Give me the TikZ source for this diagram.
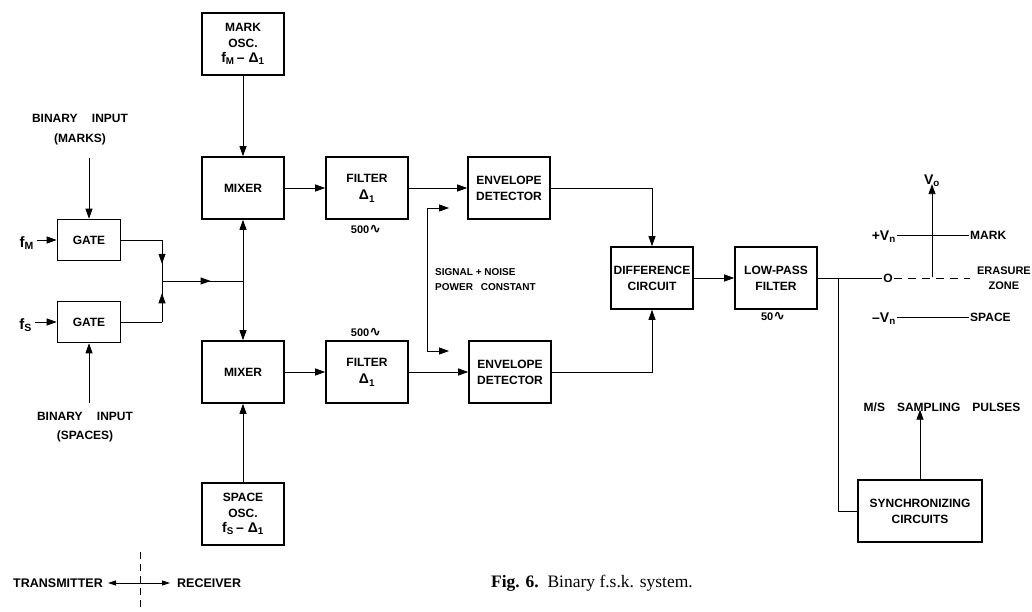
\documentclass[tikz,border=0pt]{standalone}
\usepackage{fontspec}
\setmainfont{Liberation Sans}
\newfontfamily\capfont{Liberation Serif}
\newfontfamily\symfont{DejaVu Sans}
\usetikzlibrary{arrows.meta,decorations.markings}

% wave sign used for "cycles per second"
\newcommand{\hzwave}{{\symfont\fontsize{14}{14}\selectfont\char"223F}}
% lettering used for all labels
\newcommand{\inkfont}[1]{\bfseries\fontsize{#1}{1.32\dimexpr #1pt\relax}\selectfont}
% bold frequency formula in the oscillator boxes
\newcommand{\oscfreq}[1]{{\bfseries\fontsize{14}{16}\selectfont f\textsubscript{#1}\,– Δ\textsubscript{1}}}

\tikzset{
  tip/.tip={Triangle[length=10pt,width=7pt]},
  blk/.style={draw, line width=1.6pt, minimum width=82pt, minimum height=62pt,
    align=center, inner xsep=1pt, font=\inkfont{12}},
  gatebox/.style={blk, minimum width=63pt, minimum height=41pt},
  wire/.style={line width=0.8pt},
  arr/.style={wire, -tip},
  midarr/.style={wire, postaction={decorate},
    decoration={markings, mark=at position #1 with {\arrow{tip}}}},
  lbl/.style={font=\inkfont{12}, align=center, inner sep=1pt},
  small/.style={font=\bfseries\fontsize{10}{15}\selectfont, inner sep=1pt},
}

\begin{document}
\begin{tikzpicture}[x=1pt,y=-1pt]
\useasboundingbox (0,0) rectangle (1032,612);

% ---------- transmitter ----------
\node[gatebox] (gatet) at (89,240) {GATE};
\node[gatebox] (gateb) at (89,322) {GATE};

\node[lbl, align=center] (bim) at (80,130) {BINARY\hspace{1.2em}INPUT\\[4pt](MARKS)};
\node[lbl, align=center] (bis) at (85,427) {BINARY\hspace{1.2em}INPUT\\[3pt](SPACES)};
\coordinate (bimend) at (89,158);
\coordinate (bisend) at (89,403);
\draw[arr] (bimend) -- (gatet.north);
\draw[arr] (bisend) -- (gateb.south);

\node[lbl, font=\bfseries\fontsize{15}{16}\selectfont, anchor=east] (fm) at (35,243) {f\textsubscript{M}};
\node[lbl, font=\bfseries\fontsize{15}{16}\selectfont, anchor=east] (fs) at (33,325) {f\textsubscript{S}};
\draw[arr] (fm.east |- gatet.west) ++(2,0) -- (gatet.west);
\draw[arr] (fs.east |- gateb.west) ++(2,0) -- (gateb.west);

% combining the two gate outputs
\coordinate (J) at (162,281);
\coordinate (K) at (243,281);
\draw[wire] (gatet.east) -- (gatet.east -| J);
\draw[midarr=0.58] (gatet.east -| J) -- (J);
\draw[wire] (gateb.east) -- (gateb.east -| J);
\draw[midarr=0.7] (gateb.east -| J) -- (J);
\draw[midarr=0.6] (J) -- (K);

% ---------- receiver ----------
\node[blk] (mosc) at (243,44) {MARK\\OSC.\\[-1pt]\oscfreq{M}};
\node[blk] (mixt) at (243,188) {MIXER};
\node[blk] (mixb) at (243,372) {MIXER};
\node[blk] (sosc) at (243,514) {SPACE\\OSC.\\[-1pt]\oscfreq{S}};

\node[blk] (filt) at (367,188) {FILTER\\[2pt]{\fontsize{14}{16}\selectfont Δ\textsubscript{1}}};
\node[blk] (filb) at (367,372) {FILTER\\[2pt]{\fontsize{14}{16}\selectfont Δ\textsubscript{1}}};
\node[lbl, font=\bfseries\fontsize{11}{13}\selectfont] (bwt) at (366,229) {500\hzwave};
\node[lbl, font=\bfseries\fontsize{11}{13}\selectfont] (bwb) at (366,332) {500\hzwave};

\node[blk] (envt) at (509,188) {ENVELOPE\\DETECTOR};
\node[blk] (envb) at (510,372) {ENVELOPE\\DETECTOR};
\node[blk] (diff) at (652,278) {DIFFERENCE\\CIRCUIT};
\node[blk] (lpf)  at (776,278) {LOW-PASS\\FILTER};
\node[lbl, font=\bfseries\fontsize{11}{13}\selectfont] (bwl) at (773,316) {50\hzwave};
\node[blk, minimum width=124pt] (sync) at (920,511) {SYNCHRONIZING\\CIRCUITS};

\draw[arr] (mosc) -- (mixt);
\draw[arr] (sosc) -- (mixb);
\draw[arr] (K) -- (mixt.south);
\draw[arr] (K) -- (mixb.north);
\draw[arr] (mixt) -- (filt);
\draw[arr] (mixb) -- (filb);
\draw[arr] (filt) -- (envt);
\draw[arr] (filb) -- (envb);
\draw[arr] (envt.east) -| (diff.north);
\draw[arr] (envb.east) -| (diff.south);
\draw[arr] (diff) -- (lpf);

% signal + noise power constant
\coordinate (snt) at (427,208);
\coordinate (snb) at (427,351);
\coordinate (snta) at (449,208);
\coordinate (snba) at (449,351);
\draw[wire, tip-tip] (snta) -- (snt) -- (snb) -- (snba);
\node[small, anchor=west, align=left] (snp) at (434,280) {SIGNAL + NOISE\\POWER\hspace{0.8em}CONSTANT};

% output levels
\node[lbl] (zero) at (888,278) {O};
\draw[wire] (lpf.east) -- (zero.west);
\coordinate (br) at (838,278);
\draw[wire] (br) |- (sync.west);

\node[lbl, font=\inkfont{14}] (vo) at (932,181) {V\textsubscript{o}};
\coordinate (ax0) at (932,277);
\draw[arr] (ax0) -- ([yshift=4pt]vo.south);

\node[lbl, anchor=west] (mark) at (969,235) {MARK};
\node[lbl, anchor=east, font=\inkfont{14}] (vnp) at (897,237) {+V\textsubscript{n}};
\draw[wire] (vnp.east |- mark.west) -- (mark.west);

\node[lbl, anchor=west] (space) at (969,317) {SPACE};
\node[lbl, anchor=east, font=\inkfont{14}] (vnm) at (897,319) {–V\textsubscript{n}};
\draw[wire] (vnm.east |- space.west) -- (space.west);

\node[lbl, anchor=east, font=\inkfont{11}] (ez) at (1032,278) {ERASURE\\ZONE};
\draw[wire, dash pattern=on 8pt off 6pt] (zero.east) -- ([xshift=-6pt]ez.west |- zero.east);

\node[lbl] (msp) at (942,407) {M/S\hspace{1em}SAMPLING\hspace{1em}PULSES};
\draw[arr] (sync.north) -- ([yshift=3pt]msp.south -| sync.north);

% transmitter / receiver boundary
\coordinate (dv1) at (140,552);
\coordinate (dv2) at (140,612);
\draw[wire, dash pattern=on 7pt off 5pt] (dv1) -- (dv2);
\node[lbl, anchor=east, font=\inkfont{12.5}] (tx) at (104,583) {TRANSMITTER};
\node[lbl, anchor=west, font=\inkfont{12.5}] (rx) at (176,583) {RECEIVER};
\draw[wire, {Triangle[length=8pt,width=5pt]}-{Triangle[length=8pt,width=5pt]}] ([xshift=4pt]tx.east) -- ([xshift=-6pt]rx.west);

% caption
\node[font=\capfont\fontsize{17.5}{20}\selectfont, inner sep=0pt] (cap) at (592,583)
  {\textbf{Fig. 6.}\hspace{0.5em}Binary f.s.k. system.};
\end{tikzpicture}
\end{document}
